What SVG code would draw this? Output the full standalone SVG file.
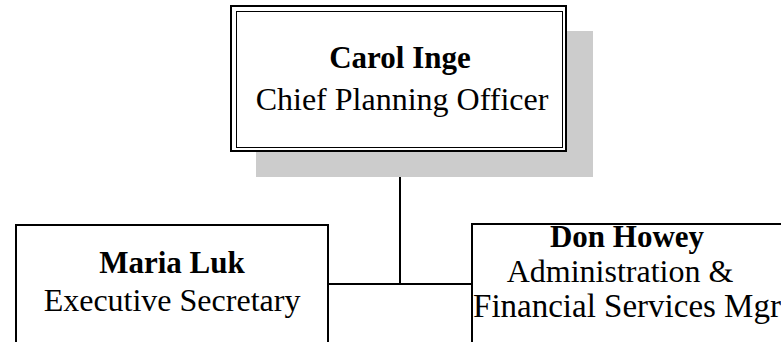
<svg xmlns="http://www.w3.org/2000/svg" width="781" height="342" viewBox="0 0 781 342">
<style>
text{font-family:"Liberation Serif","Times New Roman",serif;font-size:32px;fill:#000;text-anchor:middle}
.b{font-weight:bold;font-size:31px}
.box{fill:#fff;stroke:#000;stroke-width:2}
.conn{fill:none;stroke:#000;stroke-width:2}
</style>
<rect width="781" height="342" fill="#fff"/>
<g id="connectors">
<path class="conn" d="M400 152V284M328 284H472"/>
</g>
<g id="carol">
<rect x="256" y="31" width="337" height="146" fill="#cccccc"/>
<rect class="box" x="231" y="6" width="335" height="145"/>
<rect x="236.5" y="11.5" width="326" height="136" fill="none" stroke="#000" stroke-width="1"/>
<text class="b" x="400" y="68">Carol Inge</text>
<text x="402" y="110">Chief Planning Officer</text>
</g>
<g id="maria">
<rect class="box" x="16" y="225" width="312" height="160"/>
<text class="b" x="172" y="273">Maria Luk</text>
<text x="172" y="311">Executive Secretary</text>
</g>
<g id="don">
<rect class="box" x="472" y="224" width="330" height="160"/>
<text class="b" x="627" y="247">Don Howey</text>
<text x="620" y="282">Administration &amp;</text>
<text x="627" y="317" style="font-size:33px">Financial Services Mgr</text>
</g>
</svg>
